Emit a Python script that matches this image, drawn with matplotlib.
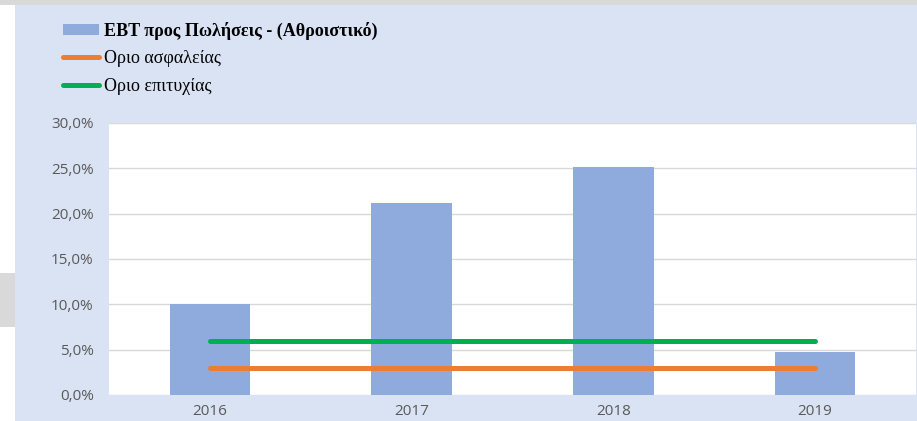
import matplotlib
matplotlib.use("Agg")
import matplotlib.pyplot as plt
from matplotlib.patches import Rectangle, Patch
from matplotlib.lines import Line2D

# ---- data ----
categories = ["2016", "2017", "2018", "2019"]
ebt_to_sales = [10.0, 21.2, 25.1, 4.7]
safety_limit = [3.0, 3.0, 3.0, 3.0]
success_limit = [6.0, 6.0, 6.0, 6.0]
y_ticks = [0, 5, 10, 15, 20, 25, 30]
y_tick_labels = ["0,0%", "5,0%", "10,0%", "15,0%", "20,0%", "25,0%", "30,0%"]
series_labels = ["ΕΒΤ προς Πωλήσεις - (Αθροιστικό)", "Οριο ασφαλείας", "Οριο επιτυχίας"]

W, H = 917, 421
fig = plt.figure(figsize=(W / 100, H / 100), dpi=100)
fig.patch.set_facecolor("white")

def fr(x0, y0, x1, y1, color):
    fig.patches.append(Rectangle((x0 / W, 1 - y1 / H), (x1 - x0) / W, (y1 - y0) / H,
                                 transform=fig.transFigure, color=color, zorder=-10, lw=0))

fr(0, 0, W, 5, "#d9d9d9")          # top grey strip
fr(15, 5, W, H, "#dae3f3")         # blue panel
fr(0, 273, 15, 327, "#d9d9d9")     # left grey box

ax = fig.add_axes([109 / W, (H - 395) / H, (916 - 109) / W, (395 - 123) / H])
ax.set_facecolor("white")

x = list(range(len(categories)))
ax.bar(x, ebt_to_sales, width=0.4, color="#8faadc", zorder=2)
ax.plot(x, safety_limit, color="#ed7d31", lw=3.6, solid_capstyle="round", zorder=3)
ax.plot(x, success_limit, color="#00b050", lw=3.6, solid_capstyle="round", zorder=3)

ax.set_xlim(-0.5, len(categories) - 0.5)
ax.set_ylim(0, 30)
ax.set_yticks(y_ticks)
ax.set_yticklabels(y_tick_labels)
ax.set_xticks(x)
ax.set_xticklabels(categories)
ax.grid(axis="y", color="#d9d9d9", lw=1.0, zorder=0)
ax.set_axisbelow(True)
for s in ax.spines.values():
    s.set_visible(False)
ax.tick_params(axis="both", length=0, colors="#595959", labelsize=11)
ax.tick_params(axis="y", pad=11)
ax.tick_params(axis="x", pad=6.5)
for lab in ax.get_xticklabels() + ax.get_yticklabels():
    lab.set_fontfamily("Open Sans")

handles = [Patch(facecolor="#8faadc", edgecolor="none"),
           Line2D([0], [0], color="#ed7d31", lw=3.6, solid_capstyle="round"),
           Line2D([0], [0], color="#00b050", lw=3.6, solid_capstyle="round")]
leg = fig.legend(handles, series_labels, loc="upper left",
                 bbox_to_anchor=(63 / W, 1 - 22 / H), frameon=False,
                 prop={"family": "Liberation Serif", "size": 13},
                 handlelength=2.0, handleheight=0.6, handletextpad=0.25,
                 labelspacing=0.57, borderpad=0, borderaxespad=0)
leg.get_texts()[0].set_fontweight("bold")

fig.savefig("out.png", dpi=100, facecolor=fig.get_facecolor())
